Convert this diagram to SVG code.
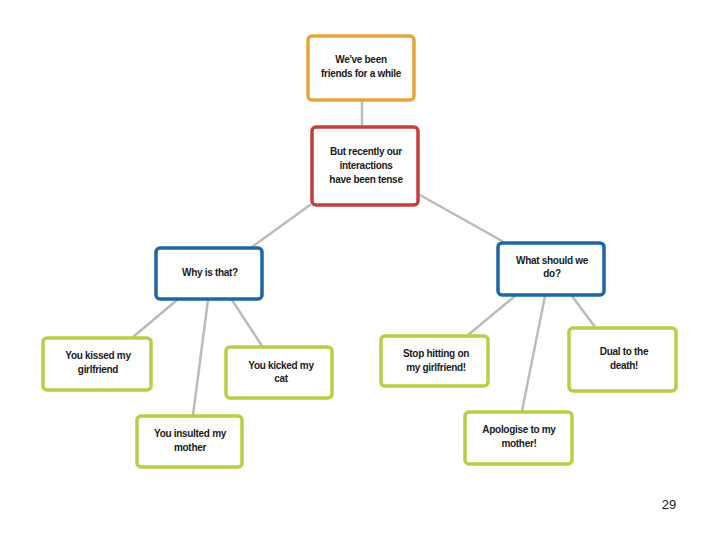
<svg xmlns="http://www.w3.org/2000/svg" width="720" height="540" viewBox="0 0 720 540">
<style>
.box{fill:#ffffff;stroke-width:3.5}
.o{stroke:#E6A53A}
.r{stroke:#C4403F}
.b{stroke:#1E67A6}
.g{stroke:#B8CE45}
.t{font-family:"Liberation Sans",Arial,sans-serif;font-weight:bold;font-size:10px;fill:#1a1a1a;text-anchor:middle;letter-spacing:-0.3px}
.c{stroke:#BBBBBB;stroke-width:2.5;fill:none;stroke-linecap:round}
</style>
<rect width="720" height="540" fill="#ffffff"/>
<g id="connectors">
<line class="c" x1="362" y1="100" x2="362" y2="127"/>
<line class="c" x1="310" y1="205" x2="252" y2="247"/>
<line class="c" x1="420" y1="195" x2="502" y2="241"/>
<line class="c" x1="177" y1="300" x2="133" y2="337"/>
<line class="c" x1="208" y1="300" x2="193" y2="415"/>
<line class="c" x1="232" y1="300" x2="262" y2="346"/>
<line class="c" x1="515" y1="296" x2="468" y2="335"/>
<line class="c" x1="545" y1="296" x2="522" y2="411"/>
<line class="c" x1="572" y1="296" x2="595" y2="327"/>
</g>
<g id="n1"><rect class="box o" x="308" y="36" width="106" height="64" rx="4"/>
<text class="t" x="361" y="63">We've been</text><text class="t" x="361" y="77">friends for a while</text></g>
<g id="n2"><rect class="box r" x="312" y="127" width="106" height="78" rx="4"/>
<text class="t" x="366" y="155">But recently our</text><text class="t" x="366" y="169">interactions</text><text class="t" x="366" y="183">have been tense</text></g>
<g id="n3"><rect class="box b" x="156" y="248" width="106" height="51" rx="4"/>
<text class="t" x="210" y="276">Why is that?</text></g>
<g id="n4"><rect class="box b" x="498" y="243" width="106" height="52" rx="4"/>
<text class="t" x="552" y="264">What should we</text><text class="t" x="552" y="277">do?</text></g>
<g id="n5"><rect class="box g" x="43" y="338" width="108" height="52" rx="4"/>
<text class="t" x="98" y="359">You kissed my</text><text class="t" x="98" y="373">girlfriend</text></g>
<g id="n6"><rect class="box g" x="226" y="347" width="106" height="51" rx="4"/>
<text class="t" x="281" y="369">You kicked my</text><text class="t" x="281" y="382">cat</text></g>
<g id="n7"><rect class="box g" x="137" y="416" width="105" height="51" rx="4"/>
<text class="t" x="190" y="437">You insulted my</text><text class="t" x="190" y="451">mother</text></g>
<g id="n8"><rect class="box g" x="381" y="336" width="107" height="50" rx="4"/>
<text class="t" x="436" y="357">Stop hitting on</text><text class="t" x="436" y="371">my girlfriend!</text></g>
<g id="n9"><rect class="box g" x="569" y="328" width="107" height="63" rx="4"/>
<text class="t" x="624" y="355">Dual to the</text><text class="t" x="624" y="369">death!</text></g>
<g id="n10"><rect class="box g" x="465" y="412" width="107" height="52" rx="4"/>
<text class="t" x="519" y="433">Apologise to my</text><text class="t" x="519" y="447">mother!</text></g>
<text x="669" y="509" font-family="Liberation Sans,Arial,sans-serif" font-size="13" fill="#222" text-anchor="middle">29</text>
</svg>
